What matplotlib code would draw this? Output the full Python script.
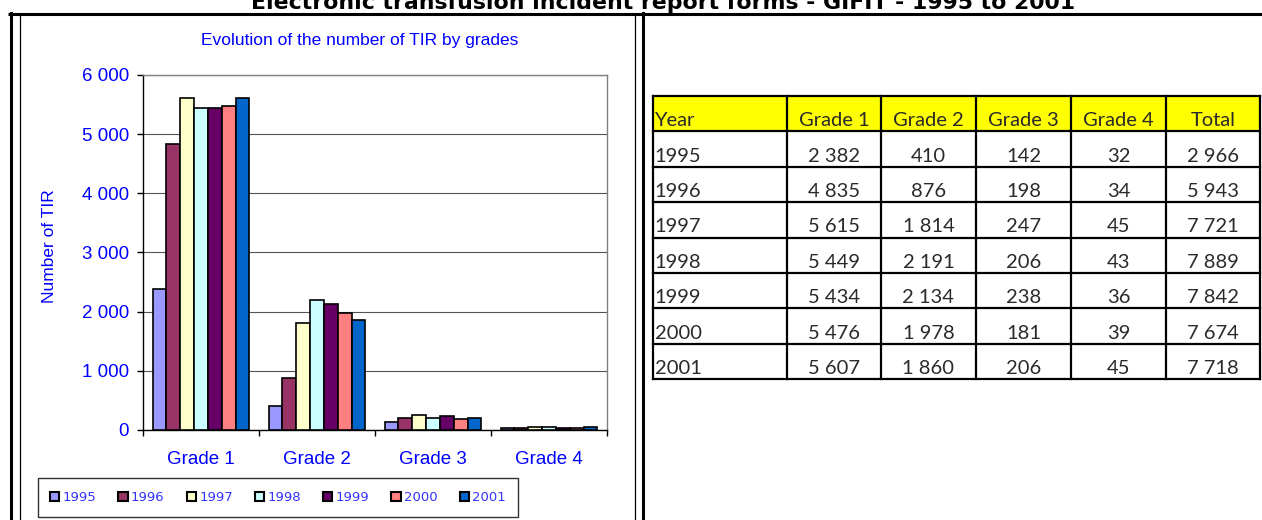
import numpy as np
import matplotlib
matplotlib.use("Agg")
import matplotlib.pyplot as plt
from matplotlib.patches import Patch, Rectangle
from matplotlib.ticker import FuncFormatter, FixedLocator

# Data
years = ["1995", "1996", "1997", "1998", "1999", "2000", "2001"]
grades = ["Grade 1", "Grade 2", "Grade 3", "Grade 4"]
grade1 = [2382, 4835, 5615, 5449, 5434, 5476, 5607]
grade2 = [410, 876, 1814, 2191, 2134, 1978, 1860]
grade3 = [142, 198, 247, 206, 238, 181, 206]
grade4 = [32, 34, 45, 43, 36, 39, 45]
year_colors = ["#9999FF", "#993366", "#FFFFCC", "#CCFFFF", "#660066", "#FF8080", "#0066CC"]

values = np.array([grade1, grade2, grade3, grade4])  # grades x years
totals = values.sum(axis=0)

BLUE = "#0000FF"


def spaced(v):
    return f"{v:,.0f}".replace(",", " ")


W, H = 1262, 520
fig = plt.figure(figsize=(W / 100, H / 100), dpi=100)

# overlay in pixel coordinates for the page frame and the table
ov = fig.add_axes([0, 0, 1, 1])
ov.set_xlim(0, W)
ov.set_ylim(H, 0)
ov.axis("off")

# page title (cut off at the top, as in the reference)
ov.text(663, 9, "Electronic transfusion incident report forms - GIFIT - 1995 to 2001",
        ha="center", va="baseline", fontsize=15.8, fontweight="bold",
        family="DejaVu Sans", color="black")

# frame lines
ov.plot([8, W], [14, 14], color="black", lw=2.2, solid_capstyle="butt")
ov.plot([11, 11], [13, H], color="black", lw=2.2)
ov.plot([20, 20], [14, H], color="black", lw=0.9)
ov.plot([635, 635], [14, H], color="black", lw=0.9)
ov.plot([643, 643], [13, H], color="black", lw=2.2)

# table
col_x = [653, 787, 881, 976, 1071, 1166, 1260]
row_y = np.linspace(96, 379, len(years) + 2)
ov.add_patch(Rectangle((col_x[0], row_y[0]), col_x[-1] - col_x[0], row_y[1] - row_y[0],
                       facecolor="#FFFF00", edgecolor="none"))
for x in col_x:
    ov.plot([x, x], [row_y[0], row_y[-1]], color="black", lw=1.6, solid_capstyle="projecting")
for y in row_y:
    ov.plot([col_x[0], col_x[-1]], [y, y], color="black", lw=1.6, solid_capstyle="projecting")

header = ["Year"] + grades + ["Total"]
rows = [[yr] + [spaced(v) for v in values[:, i]] + [spaced(totals[i])] for i, yr in enumerate(years)]
tfont = dict(family="Lato", fontsize=14.5, fontweight="normal", color="#2a2a2a", va="baseline")
for r, cells in enumerate([header] + rows):
    base = row_y[r + 1] - 5
    for c, txt in enumerate(cells):
        if c == 0:
            ov.text(col_x[0] + 1.5, base, txt, ha="left", **tfont)
        else:
            ov.text((col_x[c] + col_x[c + 1]) / 2, base, txt, ha="center", **tfont)

# bar chart
ax = fig.add_axes([143 / W, (H - 430) / H, 464 / W, 355 / H])
n = len(years)
bw = 0.833 / n
x = np.arange(len(grades))
for i, yr in enumerate(years):
    ax.bar(x - 0.833 / 2 + bw * (i + 0.5), values[:, i], width=bw, color=year_colors[i],
           edgecolor="black", linewidth=1.2, zorder=3)

ax.set_xlim(-0.5, len(grades) - 0.5)
ax.set_ylim(0, 6000)
ax.set_yticks(np.arange(0, 6001, 1000))
ax.yaxis.set_major_formatter(FuncFormatter(lambda v, p: spaced(v)))
ax.grid(axis="y", color="#555555", lw=0.8, zorder=0)
ax.set_xticks(x)
ax.set_xticklabels(grades)
ax.xaxis.set_minor_locator(FixedLocator(np.arange(-0.5, len(grades), 1.0)))
ax.tick_params(axis="x", which="major", length=0, pad=15, labelsize=13.5, labelcolor=BLUE)
ax.tick_params(axis="x", which="minor", length=4, width=1, color="black", direction="out")
ax.tick_params(axis="y", length=4, width=1, color="black", direction="out", pad=6,
               labelsize=13.5, labelcolor=BLUE)
for lbl in ax.get_xticklabels() + ax.get_yticklabels():
    lbl.set_family("Liberation Sans")
for side in ["top", "right"]:
    ax.spines[side].set_color("#808080")
    ax.spines[side].set_linewidth(1.0)
for side in ["left", "bottom"]:
    ax.spines[side].set_color("black")
    ax.spines[side].set_linewidth(1.0)

ax.set_ylabel("Number of TIR", color=BLUE, fontsize=12.5, family="Liberation Sans")
ax.yaxis.set_label_coords((57 - 143) / 464, (430 - 246) / 355)

fig.text(360 / W, 1 - 40 / H, "Evolution of the number of TIR by grades", ha="center", va="center",
         color=BLUE, fontsize=12.5, family="Liberation Sans")

handles = [Patch(facecolor=c, edgecolor="black", linewidth=1.5) for c in year_colors]
leg = fig.legend(handles, years, loc="center", bbox_to_anchor=(278 / W, 1 - 497.5 / H), ncol=n,
                 fontsize=9.5, frameon=True, fancybox=False, shadow=False, framealpha=1,
                 edgecolor="#333333", handlelength=0.7, handleheight=0.7, handletextpad=0.25,
                 columnspacing=1.67, borderpad=0.95)
leg.get_frame().set_linewidth(1.0)
for t in leg.get_texts():
    t.set_color("#3333FF")

fig.savefig("out.png", dpi=100)
